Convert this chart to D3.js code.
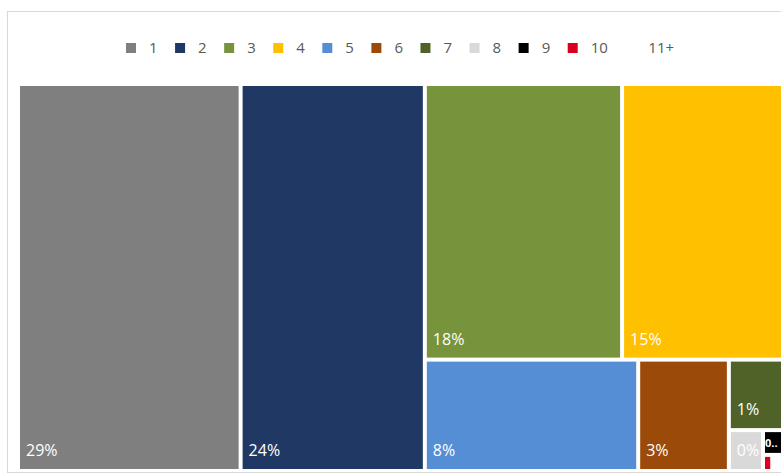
<!DOCTYPE html>
<html>
<head>
<meta charset="utf-8">
<script src="https://cdn.jsdelivr.net/npm/d3@7"></script>
<style>
  html, body { margin: 0; padding: 0; background: #ffffff; }
  svg { display: block; }
</style>
</head>
<body>
<svg id="chart" width="781" height="476"></svg>
<script>
// ---- data ----
const categories = ["1", "2", "3", "4", "5", "6", "7", "8", "9", "10", "11+"];
const values = [29.0, 24.0, 18.3, 15.3, 8.0, 3.4, 1.38, 0.47, 0.2, 0.05, 0.08];
const labels = ["29%", "24%", "18%", "15%", "8%", "3%", "1%", "0%", "0..", "", ""];
const colors = ["#7f7f7f", "#1f3864", "#77933c", "#ffc000", "#558ed5", "#9c4a09",
                "#4f6228", "#d9d9d9", "#000000", "#d8001c", "#ffffff"];
// grouping of category indices as laid out in the reference (slice/dice nesting)
const nesting = [0, 1, [[2, 3], [4, 5, [6, [7, [8, [9, 10]]]]]]];

// ---- build hierarchy ----
function build(n) {
  if (Array.isArray(n)) return { children: n.map(build) };
  return { idx: n, name: categories[n], value: values[n] };
}
const root = d3.hierarchy(build(nesting)).sum(d => d.value || 0);

const svg = d3.select("#chart");
const W = 781, H = 476;

// frame
svg.append("rect").attr("x", 0).attr("y", 0).attr("width", W).attr("height", H).attr("fill", "#ffffff");
svg.append("rect").attr("x", 7.5).attr("y", 11.5).attr("width", 820).attr("height", 461)
  .attr("fill", "#ffffff").attr("stroke", "#d9d9d9").attr("stroke-width", 1);

// treemap
const tx0 = 20, ty0 = 86, tx1 = 785, ty1 = 469;
d3.treemap()
  .tile(d3.treemapSliceDice)
  .size([tx1 - tx0, ty1 - ty0])
  .paddingInner(4)(root);

const g = svg.append("g").attr("transform", `translate(${tx0},${ty0})`);
const leaves = root.leaves();

const cell = g.selectAll("g.cell").data(leaves).join("g").attr("class", "cell");
cell.append("rect")
  .attr("x", d => d.x0).attr("y", d => d.y0)
  .attr("width", d => Math.max(0, d.x1 - d.x0))
  .attr("height", d => Math.max(0, d.y1 - d.y0))
  .attr("fill", d => colors[d.data.idx]);

const big = d => (d.x1 - d.x0) > 25;
cell.append("text")
  .attr("x", d => d.x0 + (big(d) ? 6 : 0))
  .attr("y", d => d.y1 - (big(d) ? 13 : 6))
  .attr("fill", "#ffffff")
  .attr("font-family", "'Open Sans', 'DejaVu Sans', sans-serif")
  .attr("font-size", d => (big(d) ? 16 : 11))
  .attr("font-weight", d => (big(d) ? "normal" : "bold"))
  .text(d => labels[d.data.idx]);

// legend
const legend = svg.append("g").attr("class", "legend");
const items = legend.selectAll("g").data(categories).join("g");
items.append("rect")
  .attr("width", 10).attr("height", 10).attr("y", -5)
  .attr("fill", (d, i) => colors[i]);
items.append("text")
  .attr("x", 23).attr("y", 0).attr("dy", "0.35em")
  .attr("fill", "#595959")
  .attr("font-family", "'Open Sans', 'DejaVu Sans', sans-serif")
  .attr("font-size", 15)
  .text(d => d);
const widths = [];
items.each(function () {
  const tw = d3.select(this).select("text").node().getComputedTextLength();
  widths.push(23 + tw);
});
const gapItem = 17.5;
let cx = 126;
items.attr("transform", (d, i) => {
  const t = `translate(${cx},48)`;
  cx += widths[i] + gapItem;
  return t;
});
</script>
</body>
</html>
